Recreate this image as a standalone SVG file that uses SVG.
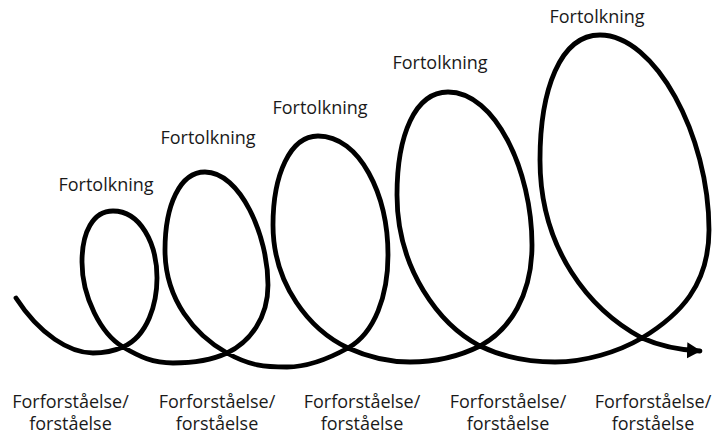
<svg xmlns="http://www.w3.org/2000/svg" width="712" height="436" viewBox="0 0 712 436">
<style>
.lbl{font-family:"Open Sans","Noto Sans","Liberation Sans",sans-serif;font-size:18px;fill:#1a1a1a;text-anchor:middle}
.curve{fill:none;stroke:#000;stroke-width:4.8;stroke-linecap:round;stroke-linejoin:round}
</style>
<defs>
<marker id="ah" markerUnits="userSpaceOnUse" markerWidth="16" markerHeight="18" refX="13" refY="8" orient="auto">
<path d="M0,0 L14,8 L0,16 Z" fill="#000"/>
</marker>
</defs>
<rect width="712" height="436" fill="#fff"/>
<g id="connectors">
<path class="curve" marker-end="url(#ah)" d="M16,298 C40,335 70,353 93,353
C103,353 114,351 123,347 C148,336 157,303 157,278 C157,243 140,211 113,211 C93,211 82,232 82,262 C82,297 101,334 123,347 C140,357 153,363 173,363
C193,363 212,360 227,353 C250,342 268,318 268,285 C268,235 240,172 205,172 C180,172 165,205 165,250 C165,300 195,335 227,353 C250,366 265,367 287,367
C310,367 330,358 348,348 C375,333 388,295 388,255 C388,195 360,136 318,136 C290,136 273,175 273,225 C273,285 310,330 348,348 C370,358 388,362 410,362
C435,362 460,356 480,346 C510,330 532,295 532,245 C532,170 495,92 448,92 C415,92 397,135 397,195 C397,270 440,325 480,346 C505,358 530,362 555,362
C585,362 618,352 642,338 C680,315 709,285 709,230 C709,135 655,35 600,35 C560,35 540,90 540,160 C540,250 590,310 642,338 C662,347 680,350 700,351"/>
</g>
<g id="fortolkning-1"><text class="lbl" x="106" y="191">Fortolkning</text></g>
<g id="fortolkning-2"><text class="lbl" x="208" y="144">Fortolkning</text></g>
<g id="fortolkning-3"><text class="lbl" x="320" y="114">Fortolkning</text></g>
<g id="fortolkning-4"><text class="lbl" x="440" y="69">Fortolkning</text></g>
<g id="fortolkning-5"><text class="lbl" x="597" y="23">Fortolkning</text></g>
<g id="forforstaaelse-1"><text class="lbl" x="70.5" y="408">Forforståelse/</text><text class="lbl" x="70.5" y="430">forståelse</text></g>
<g id="forforstaaelse-2"><text class="lbl" x="217" y="408">Forforståelse/</text><text class="lbl" x="217" y="430">forståelse</text></g>
<g id="forforstaaelse-3"><text class="lbl" x="362" y="408">Forforståelse/</text><text class="lbl" x="362" y="430">forståelse</text></g>
<g id="forforstaaelse-4"><text class="lbl" x="508" y="408">Forforståelse/</text><text class="lbl" x="508" y="430">forståelse</text></g>
<g id="forforstaaelse-5"><text class="lbl" x="653" y="408">Forforståelse/</text><text class="lbl" x="653" y="430">forståelse</text></g>
</svg>
